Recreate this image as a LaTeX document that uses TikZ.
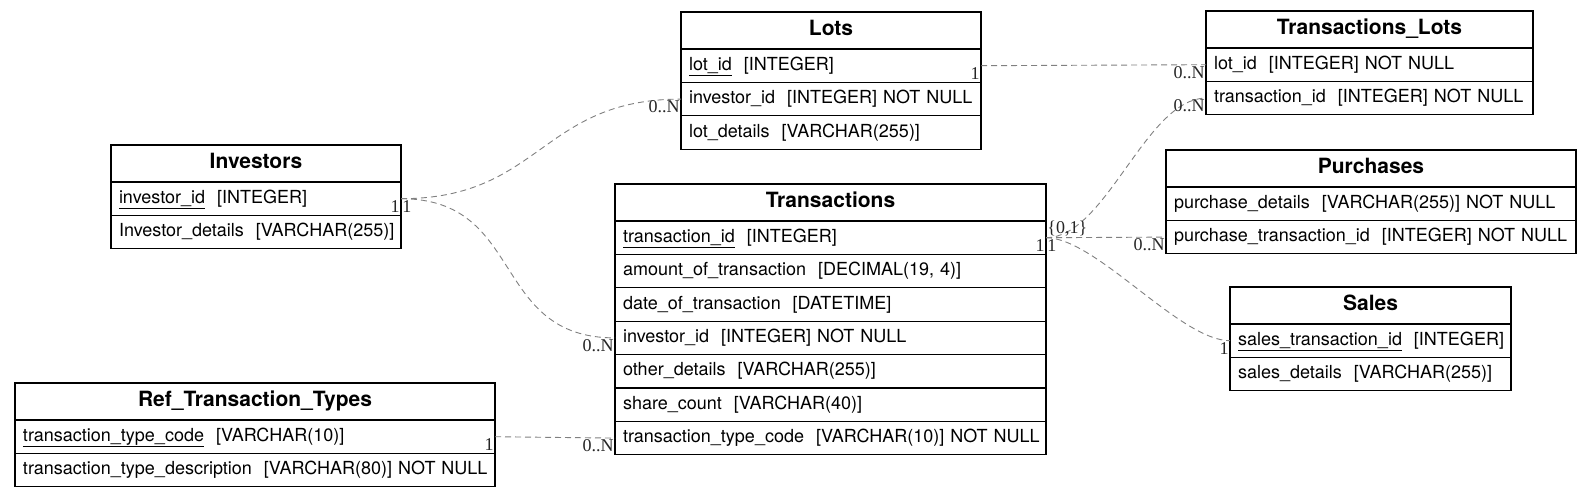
\documentclass[tikz,border=0pt]{standalone}
\usepackage{fontspec}
\setmainfont{TeX Gyre Heros}
\newfontfamily\cardfont{Liberation Serif}

\newcommand{\hdfont}{\fontsize{21}{24}\selectfont\bfseries}
\newcommand{\fdfont}{\fontsize{18}{21}\selectfont}
\newcommand{\cdfont}{\cardfont\fontsize{18}{20}\selectfont}

\begin{document}
\begin{tikzpicture}[x=1pt, y=-1pt]
        \tikzstyle{head}=[draw, line width=1.2pt, outer sep=0pt, anchor=north west, minimum height=37pt, inner sep=0pt, text height=15pt, text depth=6pt, font=\hdfont]
        \tikzstyle{fld}=[draw, line width=1.2pt, outer sep=0pt, anchor=north west, minimum height=33.4pt, inner xsep=8pt, inner ysep=0pt, text height=13pt, text depth=4pt, align=left, font=\fdfont, execute at begin node={\hbox\bgroup}, execute at end node={\egroup}]
        \tikzstyle{rel}=[draw=black!50, line width=0.9pt, dash pattern=on 6pt off 4pt]
        \tikzstyle{card}=[inner sep=1pt, text=black!85, font=\cdfont]

        \useasboundingbox (0,0) rectangle (1591,499);

        % Lots
        \node[head, minimum width=300pt] (Lot_h) at (681,12) {Lots};
        \node[fld, text width=284pt] (Lot_1) at (Lot_h.south west) {\underline{lot\_id}~~[INTEGER]};
        \node[fld, text width=284pt] (Lot_2) at (Lot_1.south west) {investor\_id~~[INTEGER] NOT NULL};
        \node[fld, text width=284pt] (Lot_3) at (Lot_2.south west) {lot\_details~~[VARCHAR(255)]};

        % Transactions_Lots
        \node[head, minimum width=327pt] (TL_h) at (1206,11) {Transactions\_Lots};
        \node[fld, text width=311pt] (TL_1) at (TL_h.south west) {lot\_id~~[INTEGER] NOT NULL};
        \node[fld, text width=311pt] (TL_2) at (TL_1.south west) {transaction\_id~~[INTEGER] NOT NULL};

        % Investors
        \node[head, minimum width=290pt] (Inv_h) at (111,145) {Investors};
        \node[fld, text width=274pt] (Inv_1) at (Inv_h.south west) {\underline{investor\_id}~~[INTEGER]};
        \node[fld, text width=274pt] (Inv_2) at (Inv_1.south west) {Investor\_details~~[VARCHAR(255)]};

        % Transactions
        \node[head, minimum width=431pt] (Tr_h) at (615,184) {Transactions};
        \node[fld, text width=415pt] (Tr_1) at (Tr_h.south west) {\underline{transaction\_id}~~[INTEGER]};
        \node[fld, text width=415pt] (Tr_2) at (Tr_1.south west) {amount\_of\_transaction~~[DECIMAL(19, 4)]};
        \node[fld, text width=415pt] (Tr_3) at (Tr_2.south west) {date\_of\_transaction~~[DATETIME]};
        \node[fld, text width=415pt] (Tr_4) at (Tr_3.south west) {investor\_id~~[INTEGER] NOT NULL};
        \node[fld, text width=415pt] (Tr_5) at (Tr_4.south west) {other\_details~~[VARCHAR(255)]};
        \node[fld, text width=415pt] (Tr_6) at (Tr_5.south west) {share\_count~~[VARCHAR(40)]};
        \node[fld, text width=415pt] (Tr_7) at (Tr_6.south west) {transaction\_type\_code~~[VARCHAR(10)] NOT NULL};

        % Purchases
        \node[head, minimum width=410pt] (Pu_h) at (1166,150) {Purchases};
        \node[fld, text width=394pt] (Pu_1) at (Pu_h.south west) {purchase\_details~~[VARCHAR(255)] NOT NULL};
        \node[fld, text width=394pt] (Pu_2) at (Pu_1.south west) {purchase\_transaction\_id~~[INTEGER] NOT NULL};

        % Sales
        \node[head, minimum width=281pt] (Sa_h) at (1230,287) {Sales};
        \node[fld, text width=265pt] (Sa_1) at (Sa_h.south west) {\underline{sales\_transaction\_id}~~[INTEGER]};
        \node[fld, text width=265pt] (Sa_2) at (Sa_1.south west) {sales\_details~~[VARCHAR(255)]};

        % Ref_Transaction_Types
        \node[head, minimum width=480pt] (Ref_h) at (15,383) {Ref\_Transaction\_Types};
        \node[fld, text width=464pt] (Ref_1) at (Ref_h.south west) {\underline{transaction\_type\_code}~~[VARCHAR(10)]};
        \node[fld, text width=464pt] (Ref_2) at (Ref_1.south west) {transaction\_type\_description~~[VARCHAR(80)] NOT NULL};

        % relations
        \draw[rel] (Inv_1.east) .. controls +(140,0) and +(-140,0) .. (Lot_2.west)
            node[card, pos=0, anchor=north east] (c_1) {1}
            node[card, pos=1, anchor=north east] (c_2) {0..N};
        \draw[rel] (Inv_1.east) .. controls +(125,0) and +(-125,0) .. (Tr_4.west)
            node[card, pos=0, anchor=north west] (c_3) {1}
            node[card, pos=1, anchor=north east] (c_4) {0..N};
        \draw[rel] (Lot_1.east) -- (TL_1.west)
            node[card, pos=0, anchor=north east] (c_5) {1}
            node[card, pos=1, anchor=north east] (c_6) {0..N};
        \draw[rel] (Tr_1.east) .. controls +(60,0) and +(-60,0) .. (TL_2.west)
            node[card, pos=0, anchor=north east] (c_7) {1}
            node[card, pos=1, anchor=north east] (c_8) {0..N};
        \draw[rel] (Tr_1.east) -- (Pu_2.west)
            node[card, pos=0, anchor=north west] (c_9) {1}
            node[card, pos=1, anchor=north east] (c_10) {0..N};
        \draw[rel] (Tr_1.east) .. controls +(50,0) and +(-50,0) .. (Sa_1.west)
            node[card, pos=0, anchor=south west] (c_11) {\{0,1\}}
            node[card, pos=1, anchor=north east] (c_12) {1};
        \draw[rel] (Ref_1.east) -- (Tr_7.west)
            node[card, pos=0, anchor=north east] (c_13) {1}
            node[card, pos=1, anchor=north east] (c_14) {0..N};
\end{tikzpicture}
\end{document}
